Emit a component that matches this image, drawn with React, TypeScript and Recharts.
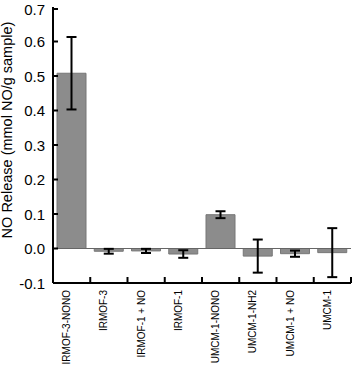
import { BarChart, Bar, XAxis, YAxis, ErrorBar, ReferenceLine, Label } from 'recharts';

const samples = ['IRMOF-3-NONO', 'IRMOF-3', 'IRMOF-1 + NO', 'IRMOF-1', 'UMCM-1-NONO', 'UMCM-1-NH2', 'UMCM-1 + NO', 'UMCM-1'];
const release = [0.508, -0.008, -0.007, -0.016, 0.098, -0.022, -0.015, -0.012];
const releaseErr = [0.105, 0.007, 0.006, 0.011, 0.01, 0.048, 0.009, 0.071];
const yTicks = [-0.1, 0, 0.1, 0.2, 0.3, 0.4, 0.5, 0.6, 0.7];

const font = '"Liberation Sans", Arial, Helvetica, sans-serif';
const W = 354;
const H = 365;
const plotLeft = 53;
const plotRight = 3;
const band = (W - plotLeft - plotRight) / samples.length;

const data = samples.map((name, i) => ({ name, value: release[i], err: releaseErr[i] }));

function YTick({ x, y, payload }: any) {
  return (
    <g>
      <line x1={x} x2={x + 5} y1={y} y2={y} stroke="#000" strokeWidth={2} />
      <text x={x - 8} y={y} textAnchor="end" dominantBaseline="central" fontSize={15} fontFamily={font} fill="#000">
        {Number(payload.value).toFixed(1)}
      </text>
    </g>
  );
}

function XTick({ x, y, payload }: any) {
  const tx = x - 1.5;
  const ty = y + 7;
  return (
    <g>
      <line x1={x + band / 2} x2={x + band / 2} y1={y} y2={y - 6} stroke="#000" strokeWidth={2} />
      <text x={tx} y={ty} transform={`rotate(-90, ${tx}, ${ty})`} textAnchor="end" fontSize={10} fontFamily={font} fill="#000">
        {payload.value}
      </text>
    </g>
  );
}

// y title sits a bit above the axis middle in the source
const YTitle = () => (
  <text x={12} y={130} transform="rotate(-90, 12, 130)" textAnchor="middle" fontSize={14.5} fontFamily={font} fill="#000">
    NO Release (mmol NO/g sample)
  </text>
);

export default function App() {
  return (
    <div style={{ position: 'absolute', left: 0, top: 0, width: W, height: H, background: '#fff' }}>
      <BarChart width={W} height={H} data={data} margin={{ top: 7, right: plotRight, bottom: 0, left: 0 }}>
        <XAxis
          dataKey="name"
          interval={0}
          height={82}
          tickLine={false}
          tickSize={0}
          tickMargin={0}
          axisLine={{ stroke: '#000', strokeWidth: 2 }}
          tick={<XTick />}
        />
        <YAxis
          type="number"
          domain={[-0.1, 0.7]}
          ticks={yTicks}
          width={plotLeft}
          tickLine={false}
          tickSize={0}
          tickMargin={0}
          axisLine={{ stroke: '#000', strokeWidth: 2 }}
          tick={<YTick />}
        >
          <Label content={<YTitle />} />
        </YAxis>
        <ReferenceLine y={0} stroke="#666" strokeWidth={1} />
        <Bar dataKey="value" fill="#8c8c8c" stroke="#777" strokeWidth={1} barSize={29} isAnimationActive={false}>
          <ErrorBar dataKey="err" width={5} stroke="#000" strokeWidth={2} direction="y" />
        </Bar>
      </BarChart>
    </div>
  );
}
